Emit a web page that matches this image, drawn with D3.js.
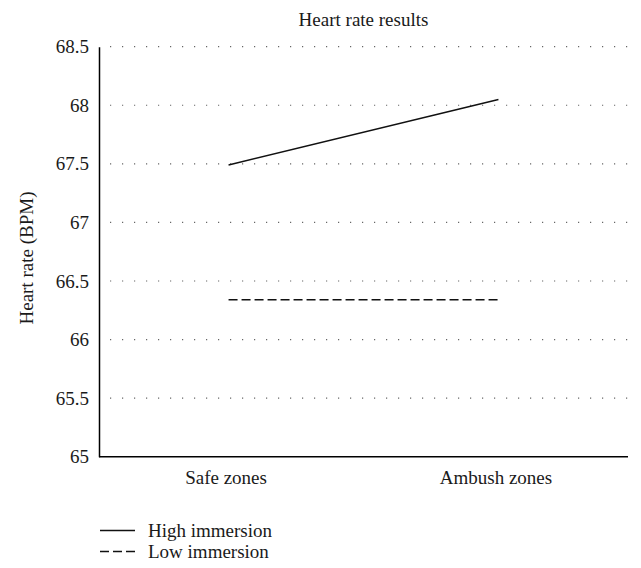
<!DOCTYPE html>
<html>
<head>
<meta charset="utf-8">
<script src="https://cdn.jsdelivr.net/npm/d3@7"></script>
<style>
  html, body { margin: 0; padding: 0; background: #fff; }
  svg { display: block; }
  svg text { font-family: "Liberation Serif", "Times New Roman", serif !important; fill: #1a1a1a; }
</style>
</head>
<body>
<svg id="chart" width="641" height="568"></svg>
<script>
const categories = ["Safe zones", "Ambush zones"];
const seriesNames = ["High immersion", "Low immersion"];
const highImmersion = [67.49, 68.05];
const lowImmersion = [66.34, 66.34];
const yTicks = [65, 65.5, 66, 66.5, 67, 67.5, 68, 68.5];
const yTickLabels = ["65", "65.5", "66", "66.5", "67", "67.5", "68", "68.5"];
const titleText = "Heart rate results";
const yAxisTitle = "Heart rate (BPM)";

const svg = d3.select("#chart");
const margin = { left: 99, right: 13, top: 46.7, bottom: 111.3 };
const W = 641, H = 568;
const x0 = margin.left, x1 = W - margin.right;
const yTop = margin.top, yBot = H - margin.bottom;

const x = d3.scalePoint().domain(categories).range([x0, x1]).padding(0.48);
const y = d3.scaleLinear().domain([65, 68.5]).range([yBot, yTop]);

const fontSize = 19;
const serif = "'Liberation Serif', 'Times New Roman', serif";

// gridlines (dotted)
svg.append("g").selectAll("line")
  .data(yTicks.filter(v => v !== 65))
  .join("line")
  .attr("x1", x0 + 11).attr("x2", x1)
  .attr("y1", d => y(d)).attr("y2", d => y(d))
  .attr("stroke", "#666")
  .attr("stroke-width", 1.2)
  .attr("stroke-dasharray", "1.2,10.8");

// y axis
const yAxis = d3.axisLeft(y).tickValues(yTicks)
  .tickFormat((d, i) => yTickLabels[i]).tickSize(0).tickPadding(10);
const gy = svg.append("g").attr("transform", `translate(${x0},0)`).call(yAxis)
  .attr("font-family", serif).attr("font-size", fontSize);
gy.select(".domain").attr("stroke", "#000").attr("stroke-width", 1.5);
gy.selectAll("text").attr("font-family", serif).attr("font-size", fontSize).attr("fill", "#1a1a1a");

// x axis
const xAxis = d3.axisBottom(x).tickSize(0).tickPadding(14);
const gx = svg.append("g").attr("transform", `translate(0,${yBot})`).call(xAxis)
  .attr("font-family", serif).attr("font-size", fontSize);
gx.select(".domain").attr("d", `M${x0},0H${x1}`).attr("stroke", "#000").attr("stroke-width", 1.5);
gx.selectAll("text").attr("font-family", serif).attr("font-size", fontSize).attr("fill", "#1a1a1a")
  .attr("dx", "-3");

// lines
const line = d3.line().x((d, i) => x(categories[i])).y(d => y(d));
svg.append("path").datum(highImmersion)
  .attr("d", line).attr("fill", "none").attr("stroke", "#111").attr("stroke-width", 1.5);
svg.append("path").datum(lowImmersion)
  .attr("d", line).attr("fill", "none").attr("stroke", "#111").attr("stroke-width", 1.5)
  .attr("stroke-dasharray", "9,4");

// title
svg.append("text").attr("x", (x0 + x1) / 2).attr("y", 26)
  .attr("text-anchor", "middle").attr("font-size", fontSize).text(titleText);

// y axis title
svg.append("text")
  .attr("transform", `translate(33,258) rotate(-90)`)
  .attr("text-anchor", "middle").attr("font-size", fontSize).text(yAxisTitle);

// legend
const leg = svg.append("g");
const dashes = [null, "9,4"];
seriesNames.forEach((name, i) => {
  const ly = 530.5 + i * 21;
  leg.append("line").attr("x1", 100).attr("x2", 135).attr("y1", ly).attr("y2", ly)
    .attr("stroke", "#111").attr("stroke-width", 1.5)
    .attr("stroke-dasharray", dashes[i]);
  leg.append("text").attr("x", 148).attr("y", ly + 6)
    .attr("font-size", fontSize).text(name);
});
</script>
</body>
</html>
